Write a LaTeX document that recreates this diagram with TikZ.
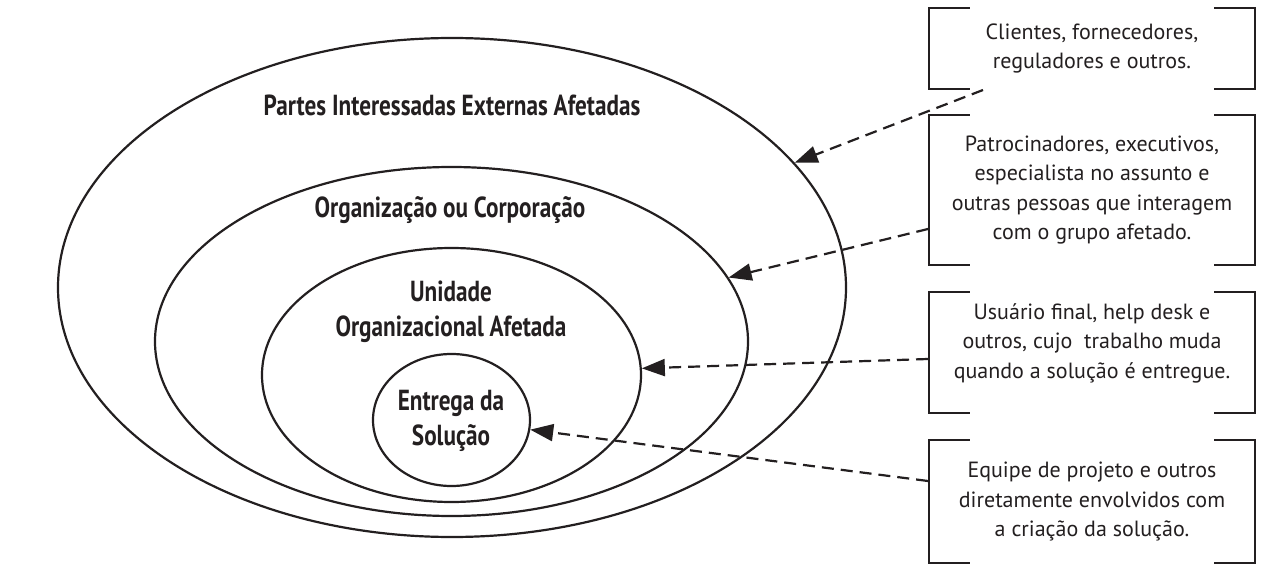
\documentclass[tikz,border=0pt]{standalone}
\usepackage{fontspec}
\setmainfont{PT Sans}
\newfontfamily\condfont[FakeStretch=0.8]{PT Sans}
\usetikzlibrary{shapes.geometric,arrows.meta}
\definecolor{ink}{HTML}{231F20}
\begin{document}
\begin{tikzpicture}[x=1pt,y=-1pt,
  ring/.style={draw=ink, line width=2.2pt, ellipse, inner sep=0pt},
  lbl/.style={font=\condfont\bfseries\fontsize{29}{35}\selectfont, text=ink, align=center},
  brk/.style={minimum width=326pt, inner sep=0pt},
  btxt/.style={font=\fontsize{22}{29.5}\selectfont, text=ink, align=center},
  bracketline/.style={draw=ink, line width=2.5pt, line join=miter},
  link/.style={draw=ink, line width=2.2pt, dash pattern=on 12pt off 7pt, -{Triangle[length=23pt,width=17pt]}}]
\useasboundingbox[fill=white] (0,0) rectangle (1270,580);
% ellipses
\node[ring, minimum width=788pt, minimum height=499pt] (outer) at (452,287.5) {};
\node[ring, minimum width=593pt, minimum height=349pt] (org) at (451.5,341.5) {};
\node[ring, minimum width=379pt, minimum height=254pt] (unit) at (451.5,375) {};
\node[ring, minimum width=157pt, minimum height=132pt] (sol) at (451.5,420) {};
% labels
\node[lbl] (l1) at (452,105) {Partes Interessadas Externas Afetadas};
\node[lbl] (l2) at (450,210) {Organização ou Corporação};
\node[lbl] (l3) at (451,312) {Unidade\\Organizacional Afetada};
\node[lbl] (l4) at (451,421) {Entrega da\\Solução};
% bracket boxes
\node[brk, minimum height=81pt] (b1) at (1092,48.5) {};
\node[brk, minimum height=150pt] (b2) at (1092,190) {};
\node[brk, minimum height=121pt] (b3) at (1092,352.5) {};
\node[brk, minimum height=123pt] (b4) at (1092,501.5) {};
\foreach \b in {b1,b2,b3,b4}{
  \draw[bracketline] ([xshift=41pt]\b.north west) -| (\b.south west) -- ([xshift=41pt]\b.south west);
  \draw[bracketline] ([xshift=-41pt]\b.north east) -| (\b.south east) -- ([xshift=-41pt]\b.south east);
}
\node[btxt] (t1) at (1092,48.5) {Clientes, fornecedores,\\reguladores e outros.};
\node[btxt] (t2) at (1092,190) {Patrocinadores, executivos,\\especialista no assunto e\\outras pessoas que interagem\\com o grupo afetado.};
\node[btxt] (t3) at (1092,343) {Usuário final, help desk e\\outros, cujo~ trabalho muda\\quando a solução é entregue.};
\node[btxt] (t4) at (1092,501.5) {Equipe de projeto e outros\\diretamente envolvidos com\\a criação da solução.};
% connectors
\coordinate (s1) at (983,90);
\coordinate (s2) at (928,229);
\coordinate (s3) at (928,359);
\coordinate (s4) at (928,481);
\draw[link] (s1) -- (outer.20.6);
\draw[link] (s2) -- (org.13.2);
\draw[link] (s3) -- (unit.2);
\draw[link] (s4) -- (sol.-7);
\end{tikzpicture}
\end{document}
